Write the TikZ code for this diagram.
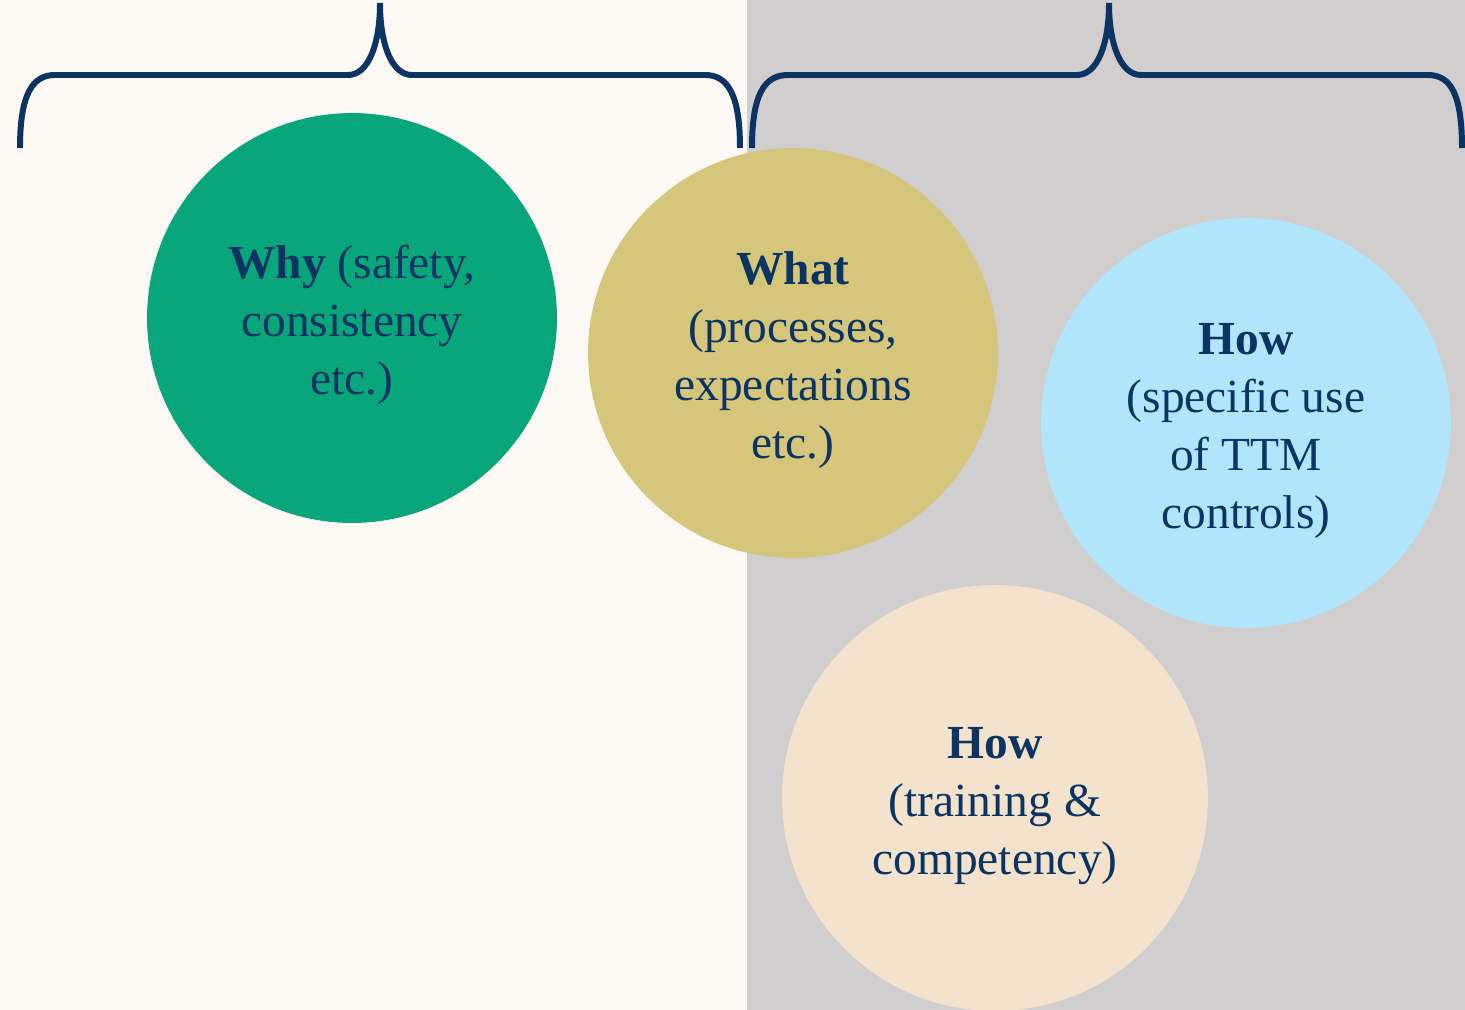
\documentclass[tikz,border=0pt]{standalone}
\usepackage{fontspec}
\setmainfont{Liberation Serif}
\usepackage{tikz}
\usetikzlibrary{positioning}

\definecolor{navy}{HTML}{0B3463}
\definecolor{cream}{HTML}{FCF9F4}
\definecolor{stone}{HTML}{D0CECF}
\definecolor{jade}{HTML}{09A67B}
\definecolor{straw}{HTML}{D5C67C}
\definecolor{sky}{HTML}{B0E5FC}
\definecolor{sand}{HTML}{F3E2CC}

% extra height on the first line, drops the text a bit in its circle
\newcommand{\lift}{\rule{0pt}{26.5pt}}

\begin{document}
\begin{tikzpicture}[x=0.02cm, y=-0.02cm,
	every node/.style = {circle, text=navy, align = center,
		font = \fontsize{27}{33}\selectfont, inner sep=0pt},
	topic/.style = {minimum size = 8.2cm},
	brace/.style = {draw=navy, line width=3.4pt}]
	
	% two backgrounds
	\fill[cream] (0,0) rectangle (747,1010);
	\fill[stone] (747,0) rectangle (1465,1010);
	\useasboundingbox (0,0) rectangle (1465,1010);
	
	% circles
	\node (why)  [topic, fill=jade]  at (352,318)  {\lift\textbf{Why} (safety,\\ consistency\\ etc.)};
	\node (what) [topic, fill=straw] at (793,353)  {\lift\textbf{What}\\ (processes,\\ expectations\\ etc.)};
	\node (ttm)  [topic, fill=sky]   at (1246,423) {\lift\textbf{How}\\ (specific use\\ of TTM\\ controls)};
	\node (train)[topic, fill=sand, minimum size=8.52cm] at (995,798) {\lift\textbf{How}\\ (training \&\\ competency)};
	
	% braces
	\draw[brace] (20,148) .. controls (20,95) and (32,75) .. (55,75) -- (348,75)
		.. controls (368,75) and (380,45) .. (380,3)
		.. controls (380,45) and (392,75) .. (412,75) -- (705,75)
		.. controls (728,75) and (740,95) .. (740,148);
	\draw[brace] (752,148) .. controls (752,95) and (764,75) .. (788,75) -- (1077,75)
		.. controls (1097,75) and (1109,45) .. (1109,3)
		.. controls (1109,45) and (1121,75) .. (1141,75) -- (1428,75)
		.. controls (1451,75) and (1462,95) .. (1462,148);
\end{tikzpicture}
\end{document}
